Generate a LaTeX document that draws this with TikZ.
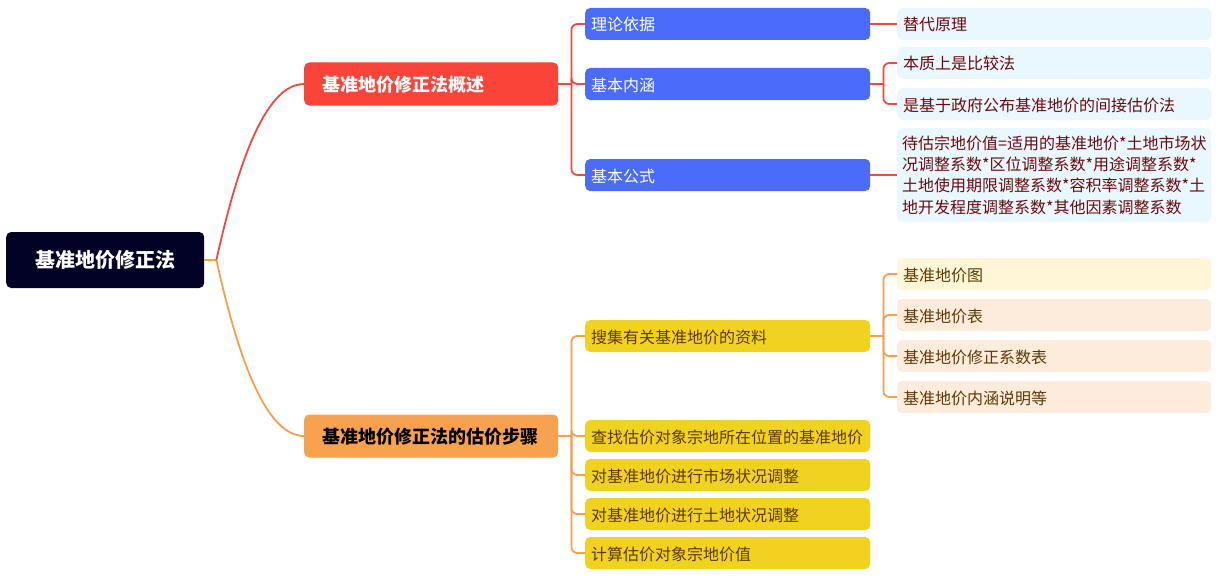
\documentclass[tikz,border=0pt]{standalone}
\usepackage{fontspec}
\setmainfont{Noto Sans CJK SC}
\definecolor{rootc}{HTML}{020226}
\definecolor{redc}{HTML}{FA4339}
\definecolor{redl}{HTML}{F04A40}
\definecolor{orac}{HTML}{F7A24F}
\definecolor{oral}{HTML}{F6A04D}
\definecolor{bluec}{HTML}{4A6CF9}
\definecolor{leafb}{HTML}{E8F8FE}
\definecolor{yelc}{HTML}{F0D21F}
\definecolor{leafy}{HTML}{FFF6D8}
\definecolor{leafp}{HTML}{FDEBDC}
\definecolor{txtred}{HTML}{6B0A0A}
\definecolor{txtbrown}{HTML}{5C3A00}
\tikzset{
  base/.style={rounded corners=5pt, anchor=west, align=left, inner ysep=0pt},
  rootbox/.style={base, fill=rootc, text=white, minimum width=198pt, minimum height=56pt, align=center, inner xsep=0pt, font=\fontsize{20}{24}\selectfont\bfseries},
  mainbox/.style={base, minimum height=43pt, text width=218pt, inner xsep=18pt, text height=15.6pt, text depth=0pt, font=\fontsize{18}{22}\selectfont\bfseries},
  midbox/.style={base, minimum height=32pt, text width=273pt, inner xsep=6pt, text height=14pt, text depth=0pt, font=\fontsize{16}{21}\selectfont},
  leafbox/.style={base, minimum height=32pt, text width=306pt, inner xsep=4pt, font=\fontsize{16}{21.3}\selectfont},
  oneline/.style={text height=14pt, text depth=0pt, inner xsep=6pt, text width=302pt},
  redln/.style={draw=redl, line width=1.8pt, rounded corners=6pt},
  oraln/.style={draw=oral, line width=1.8pt, rounded corners=6pt},
}
\begin{document}
\begin{tikzpicture}[x=1pt,y=-1pt]
\useasboundingbox (0,0) rectangle (1231,578);
% root
\node[rootbox] (root) at (6,260) {基准地价修正法};
% main branches
\node[mainbox, fill=redc, text=white] (b1) at (304,84) {基准地价修正法概述};
\node[mainbox, fill=orac, text=black] (b2) at (304,436) {基准地价修正法的估价步骤};
% level 2 blue
\node[midbox, fill=bluec, text=white] (c1) at (585,24) {理论依据};
\node[midbox, fill=bluec, text=white] (c2) at (585,84) {基本内涵};
\node[midbox, fill=bluec, text=white] (c3) at (585,175) {基本公式};
% leaves blue
\node[leafbox, oneline, fill=leafb, text=txtred] (l1) at (897,24) {替代原理};
\node[leafbox, oneline, fill=leafb, text=txtred] (l2) at (897,63) {本质上是比较法};
\node[leafbox, oneline, fill=leafb, text=txtred] (l3) at (897,104) {是基于政府公布基准地价的间接估价法};
\node[leafbox, fill=leafb, text=txtred, minimum height=94pt, inner xsep=5pt, text width=304pt] (l4) at (897,175) {待估宗地价值=适用的基准地价*土地市场状\\况调整系数*区位调整系数*用途调整系数*\\土地使用期限调整系数*容积率调整系数*土\\地开发程度调整系数*其他因素调整系数};
% level 2 yellow
\node[midbox, fill=yelc, text=txtbrown] (d1) at (585,336) {搜集有关基准地价的资料};
\node[midbox, fill=yelc, text=txtbrown] (d2) at (585,436) {查找估价对象宗地所在位置的基准地价};
\node[midbox, fill=yelc, text=txtbrown] (d3) at (585,475) {对基准地价进行市场状况调整};
\node[midbox, fill=yelc, text=txtbrown] (d4) at (585,514) {对基准地价进行土地状况调整};
\node[midbox, fill=yelc, text=txtbrown] (d5) at (585,553) {计算估价对象宗地价值};
% leaves orange
\node[leafbox, oneline, fill=leafy, text=txtbrown] (e1) at (897,274) {基准地价图};
\node[leafbox, oneline, fill=leafp, text=txtbrown] (e2) at (897,315) {基准地价表};
\node[leafbox, oneline, fill=leafp, text=txtbrown] (e3) at (897,356) {基准地价修正系数表};
\node[leafbox, oneline, fill=leafp, text=txtbrown] (e4) at (897,397) {基准地价内涵说明等};
% junctions
\coordinate (j0) at ([xshift=12pt]root.east);
\coordinate (j1) at ([xshift=13pt]b1.east);
\coordinate (j2) at ([xshift=13pt]b2.east);
\coordinate (j3) at ([xshift=13pt]c2.east);
\coordinate (j4) at ([xshift=13pt]d1.east);
% root connectors
\draw[draw=oral, line width=1.8pt] (root.east) -- (j0);
\draw[draw=redl, line width=1.8pt] (j0) .. controls +(20,-90) and +(-40,0) .. (b1.west);
\draw[draw=oral, line width=1.8pt] (j0) .. controls +(20,90) and +(-40,0) .. (b2.west);
% branch 1
\draw[redln] (b1.east) -- (j1);
\draw[redln] (j1) |- (c1.west);
\draw[redln] (j1) |- (c2.west);
\draw[redln] (j1) |- (c3.west);
\draw[redln] (c1.east) -- (l1.west);
\draw[redln] (c2.east) -- (j3);
\draw[redln] (j3) |- (l2.west);
\draw[redln] (j3) |- (l3.west);
\draw[redln] (c3.east) -- (l4.west);
% branch 2
\draw[oraln] (b2.east) -- (j2);
\draw[oraln] (j2) |- (d1.west);
\draw[oraln] (j2) |- (d2.west);
\draw[oraln] (j2) |- (d3.west);
\draw[oraln] (j2) |- (d4.west);
\draw[oraln] (j2) |- (d5.west);
\draw[oraln] (d1.east) -- (j4);
\draw[oraln] (j4) |- (e1.west);
\draw[oraln] (j4) |- (e2.west);
\draw[oraln] (j4) |- (e3.west);
\draw[oraln] (j4) |- (e4.west);
\end{tikzpicture}
\end{document}
